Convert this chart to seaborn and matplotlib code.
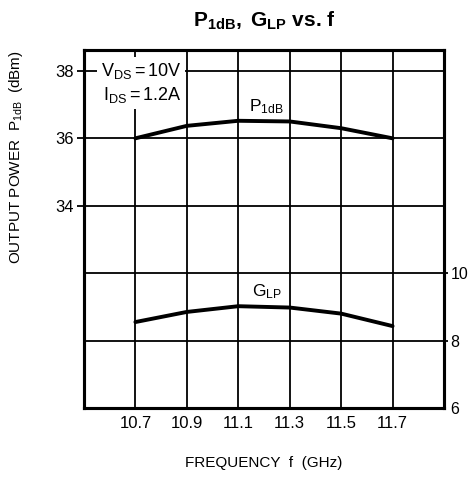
import pandas as pd
import matplotlib.pyplot as plt
import seaborn as sns

# values
freq = [10.7, 10.9, 11.1, 11.3, 11.5, 11.7]
p1db = [36.0, 36.37, 36.52, 36.5, 36.3, 36.0]
glp = [8.55, 8.85, 9.02, 8.98, 8.8, 8.43]

power_ticks = [30, 32, 34, 36, 38]
power_labels = ['', '', '34', '36', '38']
gain_ticks = [6, 8, 10]

df = pd.DataFrame({'freq': freq, 'p1db': p1db, 'glp': glp})

sns.set_style('white')
plt.rcParams['font.family'] = ['Liberation Sans', 'DejaVu Sans']
plt.rcParams['mathtext.fontset'] = 'custom'
plt.rcParams['mathtext.rm'] = 'Liberation Sans'
plt.rcParams['mathtext.it'] = 'Liberation Sans'
plt.rcParams['mathtext.bf'] = 'Liberation Sans:bold'
for k in ['text.color', 'axes.labelcolor', 'xtick.color', 'ytick.color']:
    plt.rcParams[k] = 'black'

fig = plt.figure(figsize=(4.7, 4.93), dpi=100)
ax = fig.add_axes([0.1787, 0.1724, 0.766, 0.7262])
ax2 = ax.twinx()

sns.lineplot(x='freq', y='p1db', data=df, ax=ax, color='black', linewidth=2.8)
sns.lineplot(x='freq', y='glp', data=df, ax=ax2, color='black', linewidth=2.8)

ax.set_xlim(10.5, 11.9)
ax.set_ylim(28, 38.62)
ax2.set_ylim(6, 16.62)

ax.set_xticks(freq)
ax.set_xticklabels([f'{f:.1f}' for f in freq], fontsize=12)
ax.set_yticks(power_ticks)
ax.set_yticklabels(power_labels, fontsize=12)
ax2.set_yticks(gain_ticks)
ax2.set_yticklabels([str(g) for g in gain_ticks], fontsize=11.5)

ax.grid(True, color='black', linewidth=1.3)
ax.tick_params(axis='both', length=5, width=1.3, pad=2, direction='out')
ax2.tick_params(axis='y', length=3, width=1.3, pad=1.5, direction='out')
ax.tick_params(axis='x', length=0, pad=6)
for t in ax.yaxis.get_major_ticks()[:2]:
    t.tick1line.set_visible(False)
ax2.yaxis.get_major_ticks()[0].tick2line.set_visible(False)

for a in (ax, ax2):
    for s in a.spines.values():
        s.set_color('black')
        s.set_linewidth(2.2)

ax.set_xlabel('FREQUENCY  f  (GHz)', fontsize=11, labelpad=18)
ax.set_ylabel(r'OUTPUT POWER  $\mathregular{P_{1dB}}$  (dBm)', fontsize=11)
ax.yaxis.set_label_coords(-0.165, 0.70)
ax2.set_ylabel('')

fig.text(0.563, 0.957, r'$\mathbf{P_{1dB},\ G_{LP}}$ vs. f', fontsize=15, fontweight='bold',
         ha='center', va='center')

box = dict(facecolor='white', edgecolor='none', pad=2.5)
ax.text(10.565, 38.0, r'$\mathregular{V_{DS}=10V}$', fontsize=13, va='center', ha='left', bbox=box)
ax.text(10.575, 37.28, r'$\mathregular{I_{DS}=1.2A}$', fontsize=13, va='center', ha='left', bbox=box)
ax.text(11.21, 36.95, r'$\mathregular{P_{1dB}}$', fontsize=12.5, va='center', ha='center',
        bbox=dict(facecolor='white', edgecolor='none', pad=1.5))
ax2.text(11.21, 9.45, r'$\mathregular{G_{LP}}$', fontsize=12.5, va='center', ha='center')

ax.set_zorder(ax2.get_zorder() + 1)
ax.patch.set_visible(False)

plt.savefig('out.png', dpi=100)
